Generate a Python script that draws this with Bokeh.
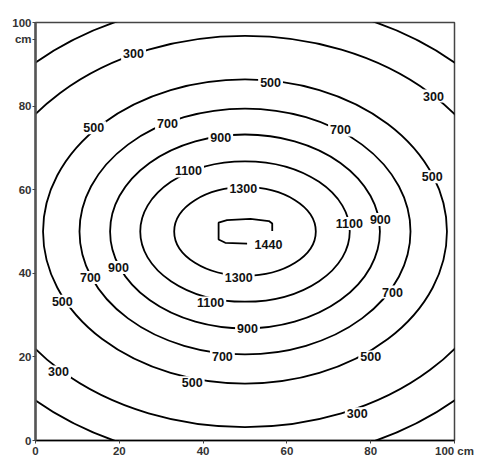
from bokeh.plotting import figure
from bokeh.models import Range1d, FixedTicker
from bokeh.core.properties import value
from bokeh.embed import file_html
from bokeh.resources import INLINE

# contour levels drawn as ellipses centred at (50, 50) cm; semi-axes
levels = [100, 300, 500, 700, 900, 1100, 1300]
semi_x = [73.3, 62.5, 48.2, 39.5, 32.2, 25.0, 16.9]
semi_y = [55.3, 46.8, 36.4, 29.4, 23.2, 16.8, 10.6]
centre_x = [50] * len(levels)
centre_y = [50] * len(levels)

# innermost 1440 contour (open polyline)
peak_x = [56.5, 56.5, 55.7, 51.3, 45.7, 43.7, 43.7, 45.3, 50.5]
peak_y = [50.1, 51.9, 52.5, 53.0, 52.7, 52.1, 48.1, 47.3, 47.1]

# contour labels
label_x = [23.4, 56.1, 95.0, 13.9, 31.5, 44.2, 72.8, 36.5, 49.6, 94.7, 74.9, 82.3,
           55.6, 48.5, 41.8, 13.1, 19.8, 6.4, 85.2, 50.6, 44.6, 80.0, 5.5, 37.4, 76.8]
label_y = [92.6, 85.7, 82.4, 74.8, 75.9, 72.6, 74.3, 64.5, 60.2, 63.1, 51.9, 52.9,
           46.9, 39.0, 32.9, 39.0, 41.4, 33.3, 35.5, 26.7, 20.2, 20.0, 16.4, 13.8, 6.4]
label_text = ["300", "500", "300", "500", "700", "900", "700", "1100", "1300", "500", "1100", "900",
              "1440", "1300", "1100", "700", "900", "500", "700", "900", "700", "500", "300", "500", "300"]

x_ticks = [0, 20, 40, 60, 80, 100]
y_ticks = [0, 20, 40, 60, 80, 96, 100]
x_tick_labels = {100: "100 cm"}
y_tick_labels = {96: "cm"}

p = figure(frame_width=419, frame_height=418, output_backend="svg", toolbar_location=None,
           x_range=Range1d(0, 100), y_range=Range1d(0, 100),
           min_border_left=35, min_border_right=22, min_border_top=22, min_border_bottom=4)
p.background_fill_color = "white"
p.border_fill_color = "white"
p.xgrid.visible = False
p.ygrid.visible = False
p.outline_line_color = "#444444"
p.outline_line_width = 1.5

p.ellipse(x=centre_x, y=centre_y, width=[2 * a for a in semi_x], height=[2 * b for b in semi_y],
          fill_color=None, line_color="black", line_width=1.8)
p.line(peak_x, peak_y, line_color="black", line_width=1.8)

p.text(x=label_x, y=label_y, text=label_text, text_align="center", text_baseline="middle",
       text_font=value("Liberation Sans"), text_font_style="bold", text_font_size="12.5px",
       text_color="#111111", background_fill_color="white", padding=2)

for ax, t in ((p.xaxis[0], x_ticks), (p.yaxis[0], y_ticks)):
    ax.ticker = FixedTicker(ticks=t)
    ax.minor_tick_line_color = None
    ax.major_tick_in = 0
    ax.major_tick_out = 3
    ax.major_label_standoff = 1
    ax.major_label_text_font = "Liberation Sans"
    ax.major_label_text_font_style = "bold"
    ax.major_label_text_font_size = "11.5px"
    ax.major_label_text_color = "#333333"
    ax.major_tick_line_color = "#444444"

p.xaxis.major_label_overrides = x_tick_labels
p.yaxis.major_label_overrides = y_tick_labels
p.xaxis.axis_line_color = "black"
p.xaxis.axis_line_width = 1.5
p.yaxis.axis_line_color = "#555555"
p.yaxis.axis_line_width = 2.5

open("out.html", "w").write(file_html(p, INLINE))
